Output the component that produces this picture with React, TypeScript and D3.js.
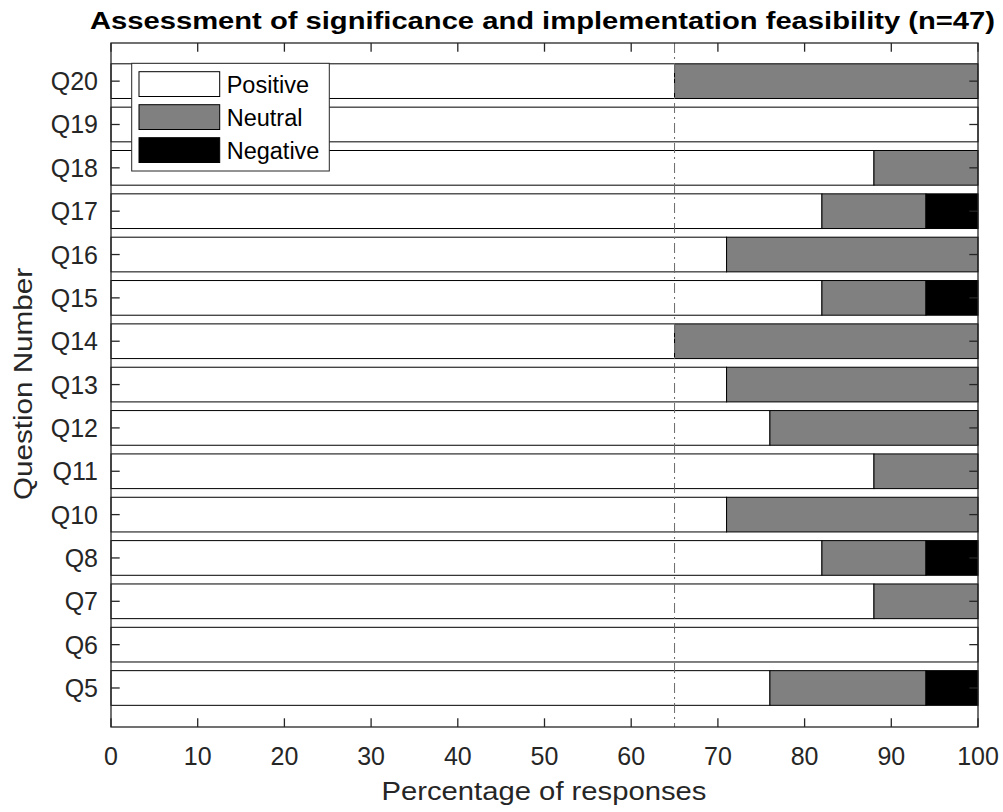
import * as d3 from "d3";

const W = 1003;
const H = 812;

// question labels, bottom to top as plotted
const questions = ["Q5", "Q6", "Q7", "Q8", "Q10", "Q11", "Q12", "Q13", "Q14", "Q15", "Q16", "Q17", "Q18", "Q19", "Q20"];
const positive = [76, 100, 88, 82, 71, 88, 76, 71, 65, 82, 71, 82, 88, 100, 65];
const neutral = [18, 0, 12, 12, 29, 12, 24, 29, 35, 12, 29, 12, 12, 0, 35];
const negative = [6, 0, 0, 6, 0, 0, 0, 0, 0, 6, 0, 6, 0, 0, 0];

const seriesNames = ["Positive", "Neutral", "Negative"];
const seriesColors = ["#ffffff", "#808080", "#000000"];
const xTicks = [0, 10, 20, 30, 40, 50, 60, 70, 80, 90, 100];
const threshold = 65;

const FONT = "'Liberation Sans', Arial, Helvetica, sans-serif";
const AX = "#262626";

const left = 111, right = 978, top = 43, bottom = 727;
const TICK = 8.7;

const App = () => {
  const x = d3.scaleLinear().domain([0, 100]).range([left, right]);
  const y = d3.scaleLinear().domain([-0.9, 14.88]).range([bottom, top]);
  const barH = y(0) - y(0.8);

  const rows = questions.map((q, i) => ({ q, i, Positive: positive[i], Neutral: neutral[i], Negative: negative[i] }));
  const stacked = d3.stack<any>().keys(seriesNames)(rows);

  return (
    <svg width={W} height={H} style={{ position: "absolute", left: 0, top: 0, background: "#fff" }} fontFamily={FONT}>
      <rect x={0} y={0} width={W} height={H} fill="#fff" />
      {stacked.map((s, si) =>
        s.map((d, i) =>
          d[1] - d[0] > 0 ? (
            <rect
              key={`${si}-${i}`}
              x={x(d[0])}
              y={y(i) - barH / 2}
              width={x(d[1]) - x(d[0])}
              height={barH}
              fill={seriesColors[si]}
              stroke="#000"
              strokeWidth={1}
            />
          ) : null
        )
      )}
      <line x1={x(threshold)} x2={x(threshold)} y1={top} y2={bottom} stroke="#6b6b6b" strokeWidth={1} strokeDasharray="10 4 2 4" />

      {/* axes box */}
      <rect x={left} y={top} width={right - left} height={bottom - top} fill="none" stroke={AX} strokeWidth={1.3} />
      {xTicks.map((t) => (
        <g key={t}>
          <line x1={x(t)} x2={x(t)} y1={bottom} y2={bottom - TICK} stroke={AX} strokeWidth={1.3} />
          <line x1={x(t)} x2={x(t)} y1={top} y2={top + TICK} stroke={AX} strokeWidth={1.3} />
          <text x={x(t)} y={765} textAnchor="middle" fontSize={25} fill={AX}>{t}</text>
        </g>
      ))}
      {questions.map((q, i) => (
        <g key={q}>
          <line x1={left} x2={left + TICK} y1={y(i)} y2={y(i)} stroke={AX} strokeWidth={1.3} />
          <line x1={right} x2={right - TICK} y1={y(i)} y2={y(i)} stroke={AX} strokeWidth={1.3} />
          <text x={98} y={y(i) + 9} textAnchor="end" fontSize={25} fill={AX}>{q}</text>
        </g>
      ))}

      {/* legend */}
      <g>
        <rect x={131.7} y={63.3} width={197.6} height={107.7} fill="#fff" stroke={AX} strokeWidth={1} />
        {seriesNames.map((n, k) => (
          <g key={n}>
            <rect x={139} y={71.7 + k * 33} width={80.7} height={24.8} fill={seriesColors[k]} stroke="#000" strokeWidth={1} />
            <text x={226.7} y={92.5 + k * 33} fontSize={23.5} fill="#000">{n}</text>
          </g>
        ))}
      </g>

      <text x={542.5} y={29} textAnchor="middle" fontSize={23.5} fontWeight="bold" fill="#000" textLength={905} lengthAdjust="spacingAndGlyphs">
        Assessment of significance and implementation feasibility (n=47)
      </text>
      <text x={544} y={800} textAnchor="middle" fontSize={25} fill={AX} textLength={325} lengthAdjust="spacingAndGlyphs">
        Percentage of responses
      </text>
      <text transform={`translate(32,384) rotate(-90)`} textAnchor="middle" fontSize={26} fill={AX} textLength={232} lengthAdjust="spacingAndGlyphs">
        Question Number
      </text>
    </svg>
  );
};

export default App;
